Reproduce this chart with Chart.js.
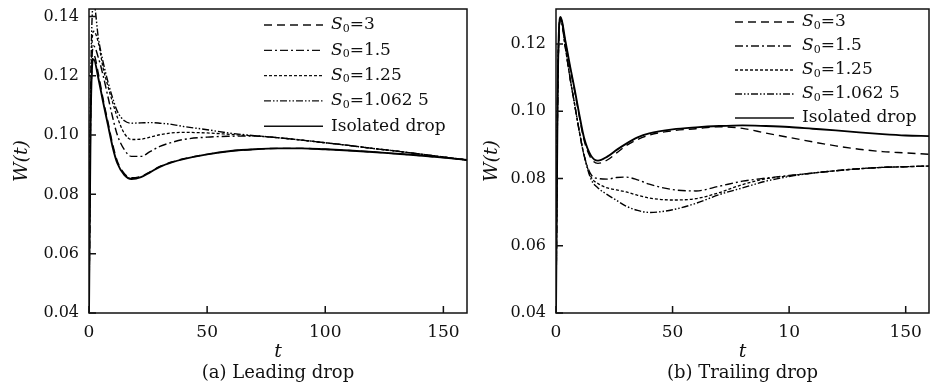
<!DOCTYPE html>
<html>
<head>
<meta charset="utf-8">
<script src="https://cdn.jsdelivr.net/npm/chart.js@4.4.1/dist/chart.umd.min.js"></script>
<style>
  html, body { margin: 0; padding: 0; background: #fff; }
  #wrap { position: relative; width: 930px; height: 389px; }
  .panel { position: absolute; top: 0; height: 389px; }
  #pa { left: 0; width: 470px; }
  #pb { left: 470px; width: 460px; }
</style>
</head>
<body>
<div id="wrap">
  <div class="panel" id="pa"><canvas id="chartA" width="470" height="389"></canvas></div>
  <div class="panel" id="pb"><canvas id="chartB" width="460" height="389"></canvas></div>
</div>
<script>
// time samples shared by every curve
const times = [0, 0.7, 2, 4, 6, 8, 10, 12, 15, 18, 22, 26, 30, 35, 40, 50, 60, 70, 80, 90, 100, 110, 120, 130, 140, 150, 160];

const seriesLabels = ['S0=3', 'S0=1.5', 'S0=1.25', 'S0=1.062 5', 'Isolated drop'];

// (a) leading drop
const leadS3     = [0.04, 0.106, 0.127, 0.1205, 0.112, 0.1045, 0.097, 0.0912, 0.087, 0.0856, 0.0861, 0.0877, 0.0894, 0.0909, 0.092, 0.0935, 0.0946, 0.0952, 0.0955, 0.0955, 0.0952, 0.0948, 0.0943, 0.0937, 0.0931, 0.0924, 0.0916];
const leadS15    = [0.04, 0.108, 0.130, 0.126, 0.120, 0.113, 0.106, 0.100, 0.095, 0.0928, 0.0928, 0.0945, 0.0962, 0.0975, 0.0985, 0.0993, 0.0996, 0.0997, 0.0991, 0.0983, 0.0974, 0.0965, 0.0955, 0.0946, 0.0936, 0.0926, 0.0916];
const leadS125   = [0.04, 0.112, 0.135, 0.131, 0.1225, 0.1165, 0.111, 0.106, 0.1005, 0.0985, 0.0986, 0.0993, 0.1001, 0.1007, 0.1009, 0.1007, 0.1002, 0.0997, 0.0991, 0.0983, 0.0974, 0.0965, 0.0955, 0.0946, 0.0936, 0.0926, 0.0916];
const leadS10625 = [0.04, 0.115, 0.1445, 0.1325, 0.1245, 0.118, 0.1125, 0.108, 0.1048, 0.104, 0.1041, 0.1042, 0.104, 0.1036, 0.1029, 0.1018, 0.1006, 0.0998, 0.0991, 0.0983, 0.0974, 0.0965, 0.0955, 0.0946, 0.0936, 0.0926, 0.0916];
const leadIso    = [0.04, 0.105, 0.1255, 0.119, 0.111, 0.1035, 0.096, 0.0905, 0.0865, 0.0852, 0.0858, 0.0875, 0.0893, 0.0908, 0.0919, 0.0935, 0.0946, 0.0952, 0.0955, 0.0955, 0.0952, 0.0948, 0.0943, 0.0937, 0.0931, 0.0924, 0.0916];

// (b) trailing drop
const trailS3     = [0.04, 0.104, 0.1275, 0.1205, 0.113, 0.106, 0.0985, 0.0915, 0.086, 0.0845, 0.0855, 0.0876, 0.0897, 0.0916, 0.0929, 0.0942, 0.0948, 0.0954, 0.0949, 0.0935, 0.0922, 0.0909, 0.0897, 0.0887, 0.088, 0.0876, 0.0872];
const trailS15    = [0.04, 0.104, 0.1275, 0.119, 0.110, 0.102, 0.094, 0.087, 0.0812, 0.080, 0.0798, 0.0803, 0.0804, 0.0796, 0.0783, 0.0767, 0.0763, 0.0777, 0.0792, 0.0801, 0.0809, 0.0816, 0.0823, 0.0829, 0.0833, 0.0835, 0.0837];
const trailS125   = [0.04, 0.104, 0.1275, 0.119, 0.110, 0.102, 0.094, 0.087, 0.0805, 0.0785, 0.0772, 0.0766, 0.076, 0.075, 0.0742, 0.0736, 0.074, 0.0758, 0.0782, 0.0799, 0.0808, 0.0816, 0.0823, 0.0829, 0.0833, 0.0835, 0.0837];
const trailS10625 = [0.04, 0.104, 0.1275, 0.119, 0.110, 0.102, 0.094, 0.087, 0.0798, 0.0772, 0.0752, 0.0735, 0.0718, 0.0705, 0.0699, 0.0707, 0.0726, 0.0752, 0.0772, 0.0792, 0.0806, 0.0816, 0.0823, 0.0829, 0.0833, 0.0835, 0.0837];
const trailIso    = [0.04, 0.105, 0.128, 0.121, 0.1135, 0.1065, 0.099, 0.0922, 0.0868, 0.0853, 0.0865, 0.0885, 0.0903, 0.0922, 0.0934, 0.0946, 0.0952, 0.0956, 0.0958, 0.0956, 0.0953, 0.0948, 0.0943, 0.0937, 0.0932, 0.0928, 0.0926];

// tick values and labels (the "10" under 100 is how the source prints it)
const xTickValues = [0, 50, 100, 150];
const xTickLabelsA = ['0', '50', '100', '150'];
const xTickLabelsB = ['0', '50', '10', '150'];
const yTickValuesA = [0.04, 0.06, 0.08, 0.10, 0.12, 0.14];
const yTickLabelsA = ['0.04', '0.06', '0.08', '0.10', '0.12', '0.14'];
const yTickValuesB = [0.04, 0.06, 0.08, 0.10, 0.12];
const yTickLabelsB = ['0.04', '0.06', '0.08', '0.10', '0.12'];

const FAMILY = '"DejaVu Serif", "Liberation Serif", serif';
const dashes = [[8, 5], [8, 3, 2, 3], [3, 2], [7, 2, 1.5, 2, 1.5, 2], []];
const widths = [1.4, 1.4, 1.3, 1.4, 1.9];

function makeDatasets(list) {
  return list.map((vals, i) => ({
    label: seriesLabels[i],
    data: times.map((t, k) => ({ x: t, y: vals[k] })),
    borderColor: '#000',
    borderWidth: widths[i],
    borderDash: dashes[i],
    pointRadius: 0,
    fill: false,
    cubicInterpolationMode: 'monotone'
  }));
}

// no extra room for half labels at the axis ends
function noEdgePadding(s) {
  s.paddingTop = 0; s.paddingBottom = 0; s.paddingLeft = 0; s.paddingRight = 0;
}

// frame, inward ticks, legend with subscripts, caption
const paperPlugin = {
  id: 'paper',
  afterDraw(chart, args, opts) {
    const ctx = chart.ctx;
    const a = chart.chartArea;
    ctx.save();
    ctx.strokeStyle = '#111';
    ctx.lineWidth = 1.5;
    ctx.setLineDash([]);
    ctx.strokeRect(a.left, a.top, a.right - a.left, a.bottom - a.top);

    // inward tick marks
    ctx.beginPath();
    chart.scales.y.ticks.forEach(t => {
      const y = chart.scales.y.getPixelForValue(t.value);
      ctx.moveTo(a.left, y); ctx.lineTo(a.left + 7, y);
    });
    chart.scales.x.ticks.forEach(t => {
      const x = chart.scales.x.getPixelForValue(t.value);
      ctx.moveTo(x, a.bottom); ctx.lineTo(x, a.bottom - 7);
    });
    ctx.stroke();

    // legend
    const lg = opts.legend;
    ctx.textBaseline = 'middle';
    ctx.textAlign = 'left';
    ctx.fillStyle = '#111';
    chart.data.datasets.forEach((ds, i) => {
      const y = a.top + lg.top + i * lg.gap;
      const x0 = a.right - lg.right;
      ctx.save();
      ctx.lineWidth = ds.borderWidth > 1.5 ? 1.6 : 1.3;
      ctx.setLineDash(ds.borderDash || []);
      ctx.beginPath();
      ctx.moveTo(x0, y); ctx.lineTo(x0 + lg.len, y);
      ctx.stroke();
      ctx.restore();
      let tx = x0 + lg.len + lg.textGap;
      const m = ds.label.match(/^S0(=.*)$/);
      if (m) {
        ctx.font = 'italic 17px ' + FAMILY;
        ctx.fillText('S', tx, y);
        tx += ctx.measureText('S').width;
        ctx.font = '11px ' + FAMILY;
        ctx.fillText('0', tx, y + 4);
        tx += ctx.measureText('0').width;
        ctx.font = '17px ' + FAMILY;
        ctx.fillText(m[1], tx, y);
      } else {
        ctx.font = '17px ' + FAMILY;
        ctx.fillText(ds.label, tx, y);
      }
    });

    // caption under the axis title
    ctx.font = '18px ' + FAMILY;
    ctx.textAlign = 'center';
    ctx.fillText(opts.caption, (a.left + a.right) / 2, 373);
    ctx.restore();
  }
};

function makeOptions(cfg) {
  return {
    responsive: false,
    animation: false,
    layout: { padding: { top: 9, right: cfg.padRight, bottom: 24, left: 0 } },
    plugins: {
      legend: { display: false },
      tooltip: { enabled: false },
      paper: { legend: cfg.legend, caption: cfg.caption }
    },
    scales: {
      x: {
        type: 'linear', min: 0, max: 160,
        afterBuildTicks: s => { s.ticks = xTickValues.map(v => ({ value: v })); },
        afterFit: s => { s.height = 52; noEdgePadding(s); },
        ticks: {
          callback: (v, i) => cfg.xLabels[i],
          font: { family: FAMILY, size: 17 }, color: '#111', padding: 9,
          maxRotation: 0, autoSkip: false
        },
        grid: { display: false, drawTicks: false },
        border: { display: false },
        title: {
          display: true, text: 't', color: '#111',
          font: { family: FAMILY, size: 19, style: 'italic' },
          padding: { top: 0, bottom: 2 }
        }
      },
      y: {
        type: 'linear', min: 0.04, max: cfg.yMax,
        afterBuildTicks: s => { s.ticks = cfg.yValues.map(v => ({ value: v })); },
        afterFit: s => { s.width = cfg.yWidth; noEdgePadding(s); },
        ticks: {
          callback: (v, i) => cfg.yLabels[i],
          font: { family: FAMILY, size: 16 }, color: '#111', padding: 10
        },
        grid: { display: false, drawTicks: false },
        border: { display: false },
        title: {
          display: true, text: 'W(t)', color: '#111',
          font: { family: FAMILY, size: 19, style: 'italic' },
          padding: { top: 11, bottom: 0 }
        }
      }
    }
  };
}

new Chart(document.getElementById('chartA'), {
  type: 'line',
  data: { datasets: makeDatasets([leadS3, leadS15, leadS125, leadS10625, leadIso]) },
  options: makeOptions({
    padRight: 3, yWidth: 89, yMax: 0.1425,
    xLabels: xTickLabelsA, yValues: yTickValuesA, yLabels: yTickLabelsA,
    caption: '(a) Leading drop',
    legend: { right: 203, len: 59, textGap: 8, top: 16, gap: 25.3 }
  }),
  plugins: [paperPlugin]
});

new Chart(document.getElementById('chartB'), {
  type: 'line',
  data: { datasets: makeDatasets([trailS3, trailS15, trailS125, trailS10625, trailIso]) },
  options: makeOptions({
    padRight: 1, yWidth: 86, yMax: 0.1304,
    xLabels: xTickLabelsB, yValues: yTickValuesB, yLabels: yTickLabelsB,
    caption: '(b) Trailing drop',
    legend: { right: 194, len: 59, textGap: 8, top: 13, gap: 24 }
  }),
  plugins: [paperPlugin]
});
</script>
</body>
</html>
